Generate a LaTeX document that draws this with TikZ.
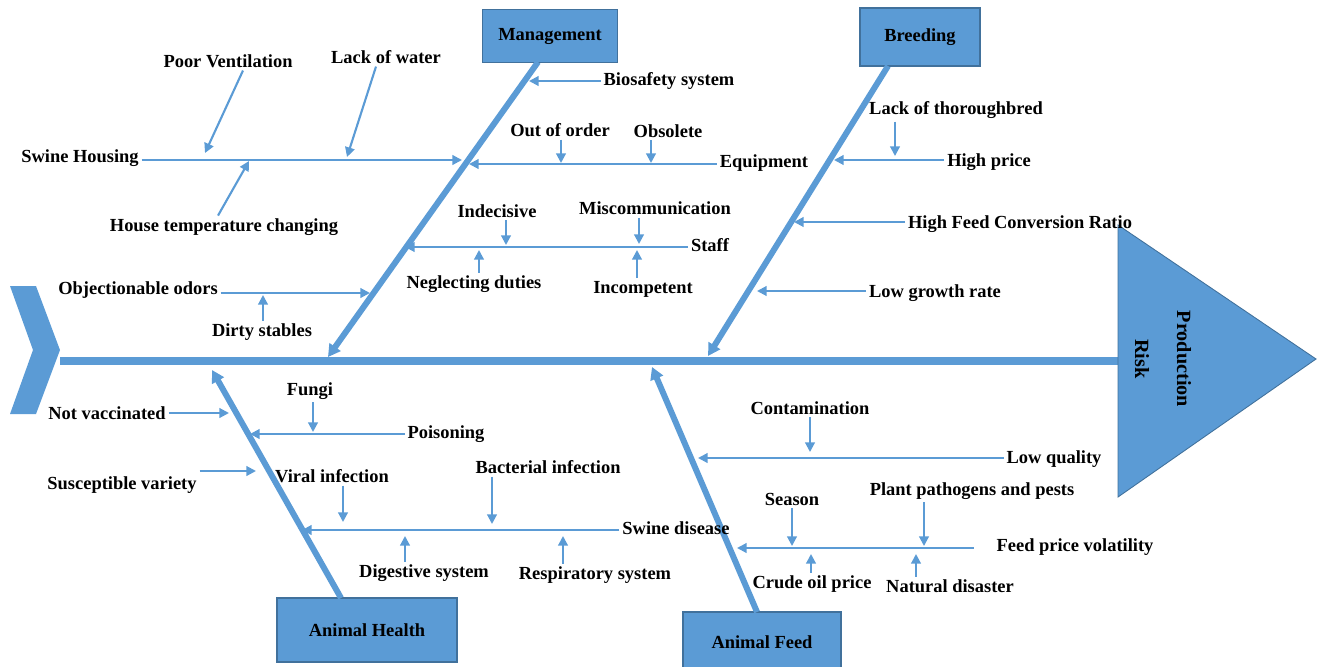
\documentclass[tikz,border=0pt]{standalone}
\usepackage{fontspec}
\setmainfont{Liberation Serif}
\usetikzlibrary{arrows.meta}
\definecolor{bone}{HTML}{5B9BD5}
\definecolor{boneedge}{HTML}{41719C}

\begin{document}
\begin{tikzpicture}[x=0.02cm,y=-0.02cm,
    >={Triangle[length=5.5pt,width=5.5pt]},
    every node/.style={font=\fontsize{10.5}{12}\selectfont\bfseries,inner sep=1.5pt}]
  \useasboundingbox (0,0) rectangle (1321,666);

  % spine, tail and head
  \coordinate (tail) at (60,361);
  \coordinate (head) at (1118,361);
  \draw[bone,line width=5pt] (tail) -- (head);
  \fill[bone] (10,286) -- (36,286) -- (60,350) -- (36,414) -- (10,414) -- (33,350) -- cycle;
  \filldraw[fill=bone,draw=boneedge,line width=0.5pt] (1118,225) -- (1316,359) -- (1118,497) -- cycle;
  \node[rotate=-90,align=center,font=\fontsize{11.5}{24}\selectfont\bfseries] (risk) at (1163,359) {Production\\Risk};

  \begin{scope}[every node/.style={rectangle,fill=bone,draw=boneedge,line width=0.6pt,
      font=\fontsize{10.5}{12}\selectfont\bfseries}]
    \node[minimum width=2.7cm,minimum height=1.06cm] (mg) at (550,36) {Management};
    \node[minimum width=2.4cm,minimum height=1.16cm] (br) at (920,37) {Breeding};
    \node[minimum width=3.6cm,minimum height=1.28cm] (ah) at (367,630) {Animal Health};
    \node[minimum width=3.16cm,minimum height=1.2cm] (af) at (762,642) {Animal Feed};
  \end{scope}

  % main bones
  \coordinate (mg-s) at (538,62);   \coordinate (mg-e) at (328,357);
  \coordinate (br-s) at (888,66);   \coordinate (br-e) at (708,356);
  \coordinate (ah-s) at (341,598);  \coordinate (ah-e) at (212,370);
  \coordinate (af-s) at (757,612);  \coordinate (af-e) at (652,367);
  \begin{scope}[bone,line width=3.4pt,>={Triangle[length=7pt,width=7.5pt]}]
    \draw[->] (mg-s) -- (mg-e);
    \draw[->] (br-s) -- (br-e);
    \draw[->] (ah-s) -- (ah-e);
    \draw[->] (af-s) -- (af-e);
  \end{scope}

  % causes
  \node (sh) at (80,158) {Swine Housing};
  \node (pv) at (228,61) {Poor Ventilation};
  \node (lw) at (386,57) {Lack of water};
  \node (ht) at (224,227) {House temperature changing};
  \node (od) at (138,290) {Objectionable odors};
  \node (ds) at (262,332) {Dirty stables};
  \node (bio) at (669,81) {Biosafety system};
  \node (eq) at (764,163) {Equipment};
  \node (oo) at (560,130) {Out of order};
  \node (obs) at (668,131) {Obsolete};
  \node (st) at (710,245) {Staff};
  \node (ind) at (497,211) {Indecisive};
  \node (mis) at (655,208) {Miscommunication};
  \node (neg) at (474,284) {Neglecting duties};
  \node (inc) at (643,289) {Incompetent};
  \node (lt) at (956,110) {Lack of thoroughbred};
  \node (hp) at (989,162) {High price};
  \node (fcr) at (1020,224) {High Feed Conversion Ratio};
  \node (lg) at (935,293) {Low growth rate};
  \node (nv) at (107,413) {Not vaccinated};
  \node (fun) at (310,391) {Fungi};
  \node (poi) at (446,434) {Poisoning};
  \node (sv) at (122,485) {Susceptible variety};
  \node (vi) at (332,476) {Viral infection};
  \node (bi) at (548,467) {Bacterial infection};
  \node (sd) at (676,528) {Swine disease};
  \node (dig) at (424,573) {Digestive system};
  \node (res) at (595,575) {Respiratory system};
  \node (con) at (810,408) {Contamination};
  \node (lq) at (1054,459) {Low quality};
  \node (sea) at (792,499) {Season};
  \node (pp) at (972,491) {Plant pathogens and pests};
  \node (fpv) at (1075,547) {Feed price volatility};
  \node (coil) at (812,584) {Crude oil price};
  \node (nd) at (950,586) {Natural disaster};

  % arrow ends
  \coordinate (sh-e) at (462,160);
  \coordinate (pv-e) at (205,153);
  \coordinate (lw-e) at (347,157);
  \coordinate (ht-e) at (249,161);
  \coordinate (od-e) at (370,293);
  \coordinate (ds-e) at (263,295);
  \coordinate (bio-e) at (529,81);
  \coordinate (eq-e) at (469,164);
  \coordinate (oo-e) at (561,163);
  \coordinate (obs-e) at (651,163);
  \coordinate (st-e) at (405,247);
  \coordinate (ind-e) at (506,245);
  \coordinate (mis-e) at (639,244);
  \coordinate (neg-e) at (479,250);
  \coordinate (inc-e) at (637,250);
  \coordinate (lt-e) at (895,156);
  \coordinate (hp-e) at (834,160);
  \coordinate (fcr-e) at (794,222);
  \coordinate (lg-e) at (757,291);
  \coordinate (nv-e) at (229,413);
  \coordinate (poi-e) at (250,434);
  \coordinate (fun-e) at (313,432);
  \coordinate (sv-e) at (256,471);
  \coordinate (sd-e) at (302,530);
  \coordinate (vi-e) at (343,522);
  \coordinate (bi-e) at (492,524);
  \coordinate (dig-e) at (405,536);
  \coordinate (res-e) at (563,536);
  \coordinate (lq-e) at (698,458);
  \coordinate (con-e) at (810,452);
  \coordinate (fpv-e) at (737,548);
  \coordinate (sea-e) at (792,546);
  \coordinate (pp-e) at (924,546);
  \coordinate (coil-e) at (811,554);
  \coordinate (nd-e) at (916,554);

  \begin{scope}[bone,line width=1.2pt]
    % Management
    \draw[->] (sh.east |- sh-e) -- (sh-e);
    \draw[->] ([xshift=0.3cm]pv.south) -- (pv-e);
    \draw[->] ([xshift=-0.2cm]lw.south) -- (lw-e);
    \draw[->] ([xshift=-0.12cm]ht.north) -- (ht-e);
    \draw[->] (od.east |- od-e) -- (od-e);
    \draw[->] (ds.north -| ds-e) -- (ds-e);
    \draw[->] (bio.west |- bio-e) -- (bio-e);
    \draw[->] (eq.west |- eq-e) -- (eq-e);
    \draw[->] (oo.south -| oo-e) -- (oo-e);
    \draw[->] (obs.south -| obs-e) -- (obs-e);
    \draw[->] (st.west |- st-e) -- (st-e);
    \draw[->] (ind.south -| ind-e) -- (ind-e);
    \draw[->] (mis.south -| mis-e) -- (mis-e);
    \draw[->] (neg.north -| neg-e) -- (neg-e);
    \draw[->] (inc.north -| inc-e) -- (inc-e);
    % Breeding
    \draw[->] (lt.south -| lt-e) -- (lt-e);
    \draw[->] (hp.west |- hp-e) -- (hp-e);
    \draw[->] (fcr.west |- fcr-e) -- (fcr-e);
    \draw[->] (lg.west |- lg-e) -- (lg-e);
    % Animal Health
    \draw[->] (nv.east |- nv-e) -- (nv-e);
    \draw[->] (poi.west |- poi-e) -- (poi-e);
    \draw[->] (fun.south -| fun-e) -- (fun-e);
    \draw[->] (sv.north east |- sv-e) -- (sv-e);
    \draw[->] (sd.west |- sd-e) -- (sd-e);
    \draw[->] (vi.south -| vi-e) -- (vi-e);
    \draw[->] (bi.south -| bi-e) -- (bi-e);
    \draw[->] (dig.north -| dig-e) -- (dig-e);
    \draw[->] (res.north -| res-e) -- (res-e);
    % Animal Feed
    \draw[->] (lq.west |- lq-e) -- (lq-e);
    \draw[->] (con.south -| con-e) -- (con-e);
    \draw[->] ([xshift=-0.4cm]fpv.west |- fpv-e) -- (fpv-e);
    \draw[->] (sea.south -| sea-e) -- (sea-e);
    \draw[->] (pp.south -| pp-e) -- (pp-e);
    \draw[->] (coil.north -| coil-e) -- (coil-e);
    \draw[->] (nd.north -| nd-e) -- (nd-e);
  \end{scope}
\end{tikzpicture}
\end{document}
